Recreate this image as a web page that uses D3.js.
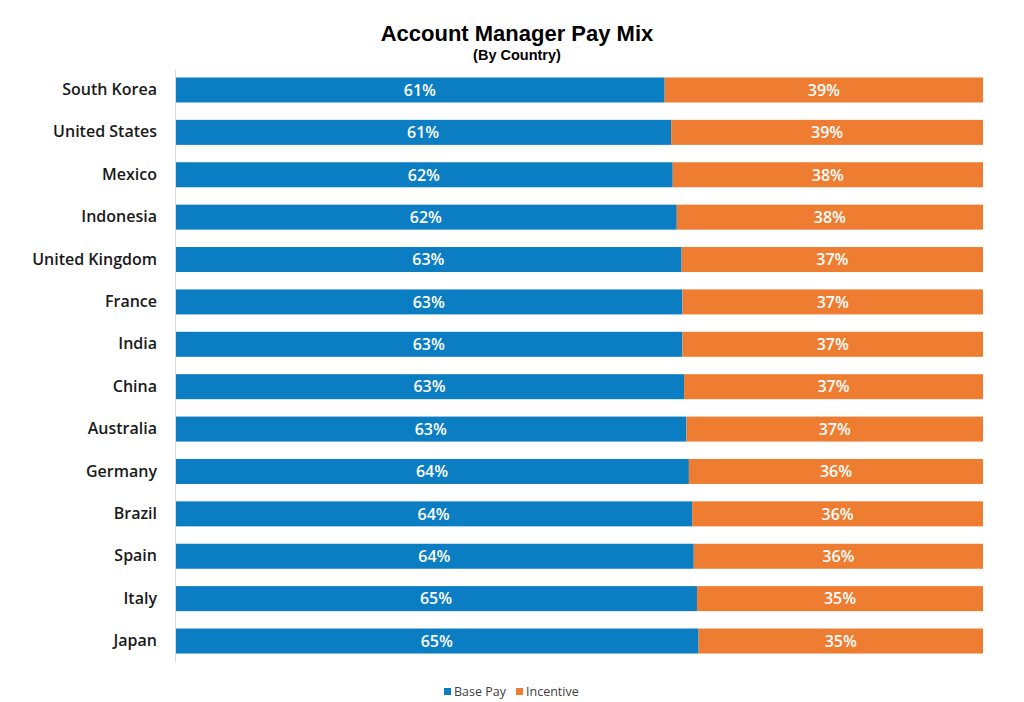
<!DOCTYPE html>
<html><head><meta charset="utf-8">
<script src="https://cdn.jsdelivr.net/npm/d3@7"></script>
<style>body{margin:0;background:#fff;} svg{display:block;}</style>
</head><body>
<svg id="chart" width="1024" height="702"></svg>
<script>
const countries = ["South Korea","United States","Mexico","Indonesia","United Kingdom","France","India","China","Australia","Germany","Brazil","Spain","Italy","Japan"];
const basePay = [60.6,61.4,61.6,62.1,62.7,62.8,62.8,63.0,63.3,63.6,64.0,64.2,64.6,64.8];
const incentive = basePay.map(v => +(100 - v).toFixed(1));
const seriesNames = ["Base Pay","Incentive"];
const colors = ["#0b7dc3","#ee7d31"];

(function(){
const svg = d3.select("#chart");
const mLeft = 175, mRight = 983, mTop = 69, mBottom = 662;
const x = d3.scaleLinear().domain([0,100]).range([mLeft,mRight]);
const y = d3.scaleBand().domain(countries).range([mTop,mBottom]).paddingInner(0.41).paddingOuter(0.2);
const lblFont = "'Open Sans', Lato, sans-serif";

const rows = countries.map((c,i)=>({c, vals:[basePay[i], incentive[i]]}));
const stack = rows.map(r => { let acc=0; return r.vals.map((v,k)=>{const s={c:r.c,k,v,x0:acc,x1:acc+v}; acc+=v; return s;}); }).flat();

svg.append("g").selectAll("rect").data(stack).join("rect")
  .attr("x", d=>x(d.x0)).attr("width", d=>x(d.x1)-x(d.x0))
  .attr("y", d=>y(d.c)).attr("height", y.bandwidth())
  .attr("fill", d=>colors[d.k]);

svg.append("g").selectAll("text").data(stack).join("text")
  .attr("x", d=>(x(d.x0)+x(d.x1))/2).attr("y", d=>y(d.c)+y.bandwidth()/2)
  .attr("dy","0.36em").attr("text-anchor","middle")
  .attr("font-family",lblFont).attr("font-weight",600).attr("font-size",16)
  .attr("fill","#fff").text(d=>Math.round(d.v)+"%");

const ax = svg.append("g").attr("transform",`translate(${mLeft},0)`)
  .call(d3.axisLeft(y).tickSize(0).tickPadding(18));
ax.select(".domain").attr("stroke","#d9d9d9");
ax.selectAll("text").attr("font-family",lblFont).attr("font-weight",600)
  .attr("font-size",16).attr("fill","#1a1a1a");

svg.append("text").attr("x",517).attr("y",41).attr("text-anchor","middle")
  .attr("font-family","'Liberation Sans','Arial',sans-serif")
  .attr("font-weight","bold").attr("font-size",22).attr("fill","#000").text("Account Manager Pay Mix");
svg.append("text").attr("x",517).attr("y",60).attr("text-anchor","middle")
  .attr("font-family","'Liberation Sans','Arial',sans-serif")
  .attr("font-weight","bold").attr("font-size",14.5).attr("fill","#000").text("(By Country)");

const lg = svg.append("g");
const legPos = [444, 516];
seriesNames.forEach((n,i)=>{
  lg.append("rect").attr("x",legPos[i]).attr("y",688).attr("width",7).attr("height",7).attr("fill",colors[i]);
  lg.append("text").attr("x",legPos[i]+10).attr("y",691.5).attr("dy","0.35em")
    .attr("font-family",lblFont).attr("font-size",12.5).attr("fill","#404040").text(n);
});
})();
</script>
</body></html>
